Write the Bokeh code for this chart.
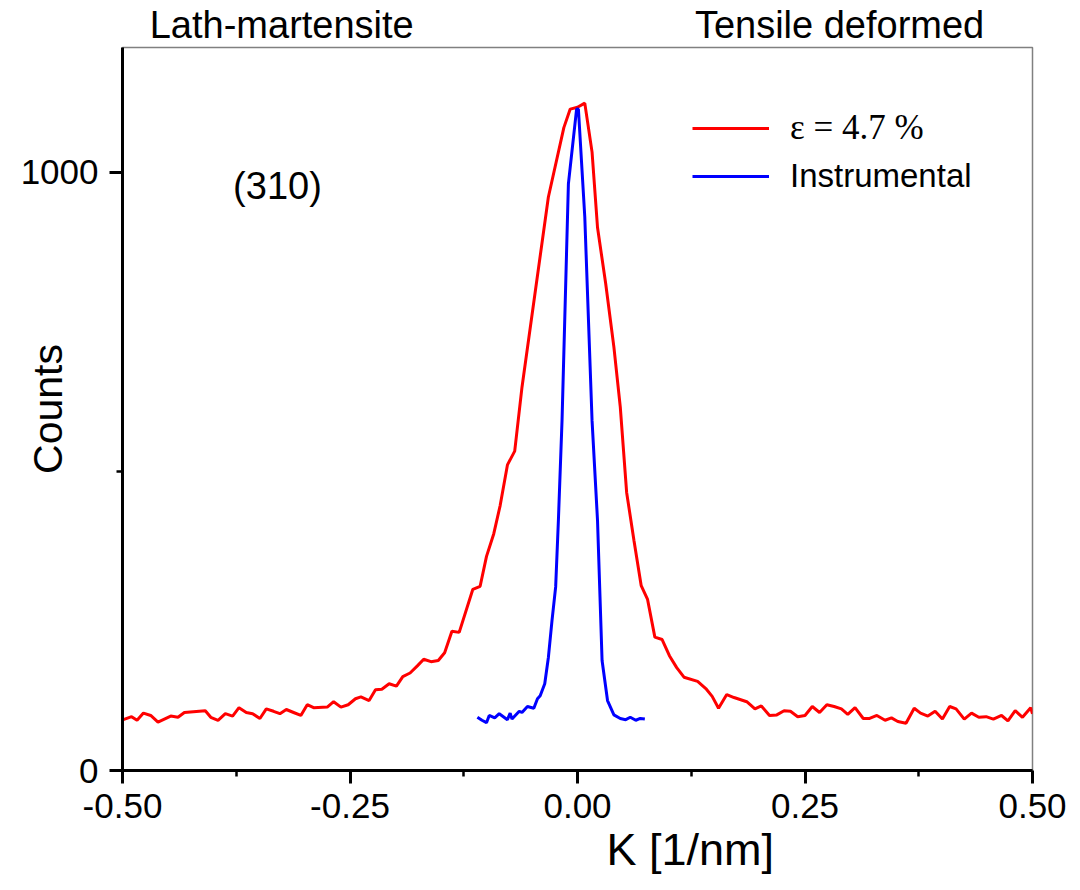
from bokeh.plotting import figure
from bokeh.models import (Range1d, FixedTicker, NumeralTickFormatter, Label,
                          Legend, LegendItem, LinearAxis, Title)
from bokeh.embed import file_html
from bokeh.resources import INLINE

# ---------------- data ----------------
strain_k = [-0.499, -0.490, -0.484, -0.477, -0.469, -0.461, -0.447, -0.439, -0.432,
            -0.409, -0.403, -0.395, -0.387, -0.379, -0.372, -0.364, -0.357, -0.349,
            -0.342, -0.334, -0.327, -0.320, -0.312, -0.304, -0.297, -0.290, -0.275,
            -0.268, -0.260, -0.252, -0.244, -0.238, -0.229, -0.222, -0.215, -0.207,
            -0.199, -0.192, -0.184, -0.176, -0.169, -0.161, -0.153, -0.146, -0.138,
            -0.130, -0.115, -0.107, -0.100, -0.092, -0.085, -0.077, -0.069, -0.061,
            -0.032, -0.015, -0.008, 0.000, 0.008, 0.016, 0.022, 0.031, 0.040, 0.047,
            0.054, 0.062, 0.070, 0.077, 0.085, 0.093, 0.101, 0.109, 0.117, 0.132,
            0.141, 0.148, 0.155, 0.164, 0.172, 0.186, 0.195, 0.202, 0.211, 0.219,
            0.227, 0.234, 0.242, 0.250, 0.258, 0.266, 0.274, 0.282, 0.290, 0.297,
            0.305, 0.314, 0.321, 0.329, 0.338, 0.345, 0.352, 0.361, 0.370, 0.377,
            0.385, 0.393, 0.401, 0.409, 0.416, 0.425, 0.433, 0.441, 0.449, 0.457,
            0.466, 0.473, 0.481, 0.489, 0.498, 0.500]
strain_counts = [85, 90, 84, 96, 92, 81, 91, 89, 97,
                 100, 89, 84, 95, 91, 105, 97, 95, 87,
                 103, 99, 95, 102, 97, 92, 110, 105, 106,
                 115, 106, 110, 120, 123, 117, 135, 136, 145,
                 141, 157, 163, 175, 186, 182, 184, 197, 233,
                 231, 303, 308, 358, 396, 443, 511, 534, 641,
                 959, 1075, 1106, 1109, 1116, 1034, 908, 814, 708, 608,
                 465, 385, 309, 286, 223, 219, 192, 172, 156, 149,
                 137, 124, 104, 127, 122, 115, 103, 108, 92, 93,
                 100, 99, 90, 92, 107, 97, 110, 107, 103, 94,
                 105, 87, 87, 92, 84, 88, 82, 79, 104, 96,
                 91, 99, 86, 107, 103, 86, 96, 89, 90, 86,
                 92, 83, 100, 89, 105, 95]

instr_k = [-0.110, -0.105, -0.100, -0.097, -0.091, -0.086, -0.077, -0.074, -0.072,
           -0.064, -0.061, -0.055, -0.048, -0.044, -0.041, -0.036, -0.032, -0.028,
           -0.024, -0.021, -0.017, -0.010, -0.001, 0.001, 0.008, 0.016, 0.022,
           0.027, 0.033, 0.040, 0.047, 0.053, 0.058, 0.064, 0.069, 0.074]
instr_counts = [89, 84, 80, 92, 88, 95, 85, 96, 86,
                99, 97, 107, 104, 120, 125, 145, 189, 251,
                307, 418, 585, 981, 1106, 1106, 926, 585, 418,
                184, 117, 93, 87, 85, 89, 84, 87, 86]

x_ticks = [-0.5, -0.25, 0.0, 0.25, 0.5]
x_minor = [-0.375, -0.125, 0.125, 0.375]
y_ticks = [0, 1000]
y_minor = [500]

series_labels = ["\u03b5 = 4.7 %", "Instrumental"]
titles = ["Lath-martensite", "Tensile deformed"]
title_k = [-0.325, 0.288]          # where the two header texts are centred (K units)
peak_label = "(310)"
x_title = "K  [1/nm]"
y_title = "Counts"

SANS = "Liberation Sans"
SERIF = "Liberation Serif"

# ---------------- figure ----------------
p = figure(width=1080, height=890, output_backend="svg", toolbar_location=None,
           x_range=Range1d(-0.5, 0.5), y_range=Range1d(0, 1209),
           min_border_left=122, min_border_right=48, min_border_top=47,
           min_border_bottom=120)
p.background_fill_color = "white"
p.border_fill_color = "white"
p.grid.visible = False
p.outline_line_color = "#808080"
p.outline_line_width = 1.5

for ax in (p.xaxis[0], p.yaxis[0]):
    ax.axis_line_color = "black"
    ax.axis_line_width = 3
    ax.major_tick_line_color = "black"
    ax.major_tick_line_width = 3
    ax.minor_tick_line_color = "black"
    ax.minor_tick_line_width = 2.5
    ax.major_tick_out = 13
    ax.major_tick_in = 0
    ax.minor_tick_out = 6
    ax.minor_tick_in = 0
    ax.major_label_text_font = SANS
    ax.major_label_text_color = "black"

p.xaxis.ticker = FixedTicker(ticks=x_ticks, minor_ticks=x_minor)
p.xaxis.formatter = NumeralTickFormatter(format="0.00")
p.xaxis.major_label_text_font_size = "35px"
p.xaxis.major_label_standoff = 10

p.yaxis.ticker = FixedTicker(ticks=y_ticks, minor_ticks=y_minor)
p.yaxis.major_label_text_font_size = "35px"
p.yaxis.major_label_standoff = 11
p.yaxis.axis_label = y_title
p.yaxis.axis_label_text_font = SANS
p.yaxis.axis_label_text_font_style = "normal"
p.yaxis.axis_label_text_font_size = "41px"
p.yaxis.axis_label_text_color = "black"
p.yaxis.axis_label_standoff = -53

# header texts: a bare top axis whose two tick labels are the headers
top = LinearAxis(ticker=FixedTicker(ticks=title_k, minor_ticks=[]),
                 major_label_overrides={title_k[0]: titles[0], title_k[1]: titles[1]},
                 axis_line_alpha=0, major_tick_line_alpha=0, minor_tick_line_alpha=0,
                 major_tick_out=0, major_tick_in=0, minor_tick_out=0, minor_tick_in=0,
                 major_label_standoff=2, major_label_text_font=SANS,
                 major_label_text_font_size="38px", major_label_text_color="black")
p.add_layout(top, "above")

# x-axis title below the axis
p.add_layout(Title(text=x_title, align="left", offset=484, standoff=2,
                   text_font=SANS, text_font_size="45px",
                   text_font_style="normal", text_color="black"), "below")

r_strain = p.line(strain_k, strain_counts, line_color="#ff0000", line_width=3)
r_instr = p.line(instr_k, instr_counts, line_color="#0000ff", line_width=3)

# legends (two, to allow different fonts)
leg1 = Legend(items=[LegendItem(label=series_labels[0], renderers=[r_strain])],
              location=(570, 622), label_text_font=SERIF,
              label_text_font_size="35px")
leg2 = Legend(items=[LegendItem(label=series_labels[1], renderers=[r_instr])],
              location=(570, 575), label_text_font=SANS,
              label_text_font_size="33px")
for lg in (leg1, leg2):
    lg.glyph_width = 77
    lg.glyph_height = 30
    lg.label_height = 30
    lg.label_standoff = 21
    lg.padding = 0
    lg.margin = 0
    lg.spacing = 0
    lg.border_line_alpha = 0
    lg.background_fill_alpha = 0
    lg.label_text_color = "black"
    p.add_layout(lg)

p.add_layout(Label(x=-0.3297, y=978, text=peak_label, text_font=SANS,
                   text_font_size="38px", text_align="center",
                   text_baseline="middle", text_color="black"))

open("out.html", "w").write(file_html(p, INLINE))
